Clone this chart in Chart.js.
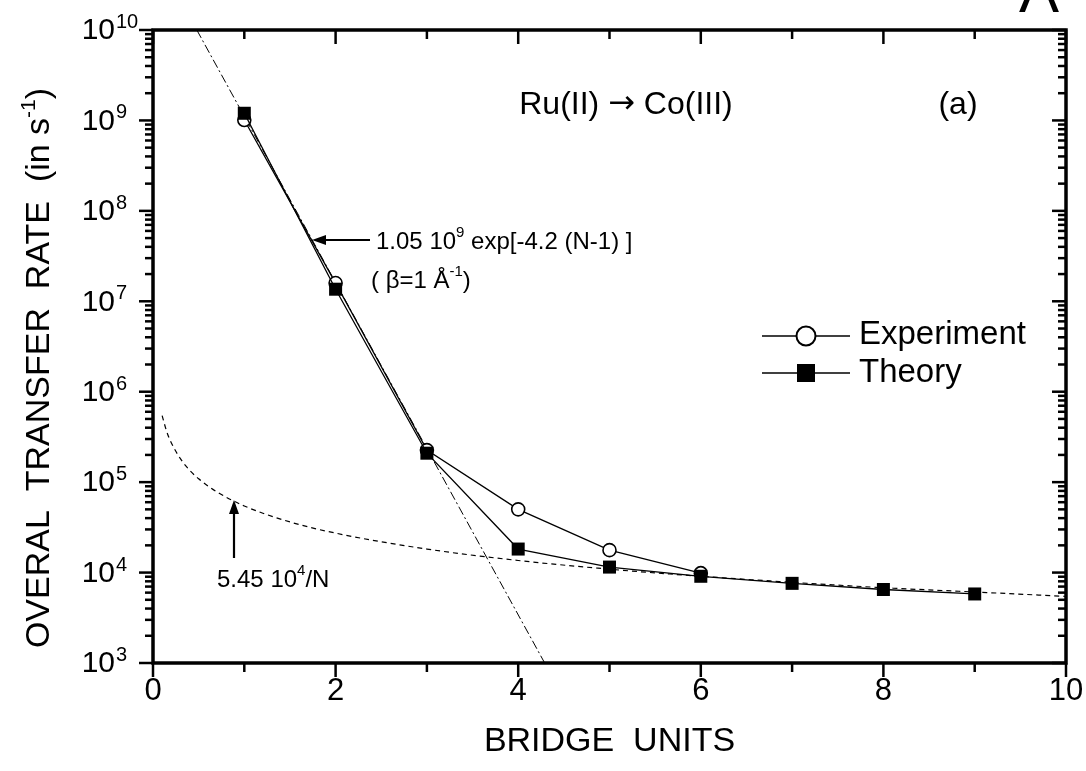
<!DOCTYPE html>
<html><head><meta charset="utf-8">
<script src="https://cdn.jsdelivr.net/npm/chart.js@4.4.1/dist/chart.umd.min.js"></script>
<style>html,body{margin:0;padding:0;background:#fff;overflow:hidden}</style>
</head><body>
<canvas id="c" width="1086" height="771" style="display:block;width:1086px;height:771px"></canvas>
<script>
const FONT = '"Liberation Sans", Arial, Helvetica, sans-serif';

// ---- data ----
const bridgeUnitsExp   = [1, 2, 3, 4, 5, 6];
const experimentRate   = [1.01e9, 1.59e7, 2.26e5, 5.0e4, 1.77e4, 9.85e3];
const bridgeUnitsTheory = [1, 2, 3, 4, 5, 6, 7, 8, 9];
const theoryRate       = [1.2e9, 1.36e7, 2.09e5, 1.82e4, 1.15e4, 9.1e3, 7.6e3, 6.5e3, 5.8e3];
// dash-dot fit line 1.05e9 exp[-4.2(N-1)] : ends
const expFitN    = [0.48, 4.29];
const expFitRate = [1e10, 1e3];
// dashed curve 5.45e4/N : points
const invFitN    = [0.1, 0.15, 0.2, 0.3, 0.4, 0.5, 0.7, 1, 1.5, 2, 3, 4, 5, 6, 7, 8, 9, 10];
const invFitRate = [5.45e5, 3.63e5, 2.73e5, 1.82e5, 1.36e5, 1.09e5, 7.8e4, 5.45e4, 3.63e4, 2.73e4, 1.82e4, 1.36e4, 1.09e4, 9.1e3, 7.8e3, 6.8e3, 6.1e3, 5.45e3];
// axis ticks
const xTickValues = [0, 2, 4, 6, 8, 10];
const xTickLabels = ['0', '2', '4', '6', '8', '10'];
const yTickExponents = [3, 4, 5, 6, 7, 8, 9, 10];

const pts = (xs, ys) => xs.map((x, i) => ({x, y: ys[i]}));

function drawSup(ctx, parts, x, y, align) {
  let total = 0;
  const f = p => p.size + 'px ' + (p.family || FONT);
  parts.forEach(p => { ctx.font = f(p); p.w = ctx.measureText(p.t).width; total += p.w; });
  let cx = align === 'center' ? x - total / 2 : align === 'right' ? x - total : x;
  ctx.textAlign = 'left';
  parts.forEach(p => { ctx.font = f(p); ctx.fillText(p.t, cx, y + (p.dy || 0)); cx += p.w; });
}

function arrow(ctx, x1, y1, x2, y2) {
  const ang = Math.atan2(y2 - y1, x2 - x1), L = 14, W = 5;
  ctx.lineWidth = 2.2;
  ctx.beginPath(); ctx.moveTo(x1, y1);
  ctx.lineTo(x2 - Math.cos(ang) * (L - 2), y2 - Math.sin(ang) * (L - 2)); ctx.stroke();
  ctx.beginPath(); ctx.moveTo(x2, y2);
  ctx.lineTo(x2 - Math.cos(ang) * L - Math.sin(ang) * W, y2 - Math.sin(ang) * L + Math.cos(ang) * W);
  ctx.lineTo(x2 - Math.cos(ang) * L + Math.sin(ang) * W, y2 - Math.sin(ang) * L - Math.cos(ang) * W);
  ctx.closePath(); ctx.fill();
}

const overlay = {
  id: 'overlay',
  afterDraw(chart) {
    const ctx = chart.ctx, a = chart.chartArea, xs = chart.scales.x, ys = chart.scales.y;
    ctx.save();
    ctx.strokeStyle = '#000'; ctx.fillStyle = '#000'; ctx.lineCap = 'butt';
    const seg = (x1, y1, x2, y2) => { ctx.beginPath(); ctx.moveTo(x1, y1); ctx.lineTo(x2, y2); ctx.stroke(); };
    ctx.lineWidth = 2.5;
    for (let v = 0; v <= 10; v++) {
      const x = xs.getPixelForValue(v), L = v % 2 === 0 ? 14 : 9;
      seg(x, a.bottom, x, a.bottom + L);
      seg(x, a.top, x, a.top + L);
    }
    yTickExponents.forEach(e => {
      const y = ys.getPixelForValue(Math.pow(10, e));
      seg(a.left - 14, y, a.left, y); seg(a.right - 14, y, a.right, y);
      if (e < 10) for (let m = 2; m <= 9; m++) {
        const ym = ys.getPixelForValue(m * Math.pow(10, e));
        seg(a.left - 8, ym, a.left, ym); seg(a.right - 8, ym, a.right, ym);
      }
    });
    ctx.lineWidth = 3.5;
    ctx.strokeRect(a.left, a.top, a.right - a.left, a.bottom - a.top);

    // tick labels
    ctx.textBaseline = 'middle'; ctx.textAlign = 'center';
    ctx.font = '31px ' + FONT;
    xTickValues.forEach((v, i) => ctx.fillText(xTickLabels[i], xs.getPixelForValue(v), 691));
    yTickExponents.forEach(e => {
      const y = ys.getPixelForValue(Math.pow(10, e));
      ctx.textBaseline = 'middle'; ctx.textAlign = 'right';
      ctx.font = '30px ' + FONT; ctx.fillText('10', 115, y + 1);
      ctx.textBaseline = 'alphabetic'; ctx.textAlign = 'left';
      ctx.font = '20px ' + FONT; ctx.fillText(String(e), 116, y - 2);
    });

    // axis titles
    ctx.textBaseline = 'middle'; ctx.textAlign = 'center';
    ctx.font = '34px ' + FONT;
    ctx.fillText('BRIDGE  UNITS', (a.left + a.right) / 2, 742);
    ctx.save();
    ctx.translate(40, 368); ctx.rotate(-Math.PI / 2);
    ctx.textBaseline = 'middle';
    drawSup(ctx, [{t: 'OVERAL  TRANSFER  RATE  (in s', size: 34}, {t: '-1', size: 21, dy: -11}, {t: ')', size: 34}], 0, 0, 'center');
    ctx.restore();

    // annotations
    ctx.textBaseline = 'middle';
    drawSup(ctx, [{t: 'Ru(II) ', size: 32}, {t: '\u2192', size: 32, family: '"DejaVu Sans", sans-serif'}, {t: ' Co(III)', size: 32}], 626, 105, 'center');
    ctx.font = '32px ' + FONT; ctx.textAlign = 'center';
    ctx.fillText('(a)', 958, 105);
    ctx.textBaseline = 'alphabetic';
    ctx.font = '60px ' + FONT; ctx.textAlign = 'center';
    ctx.fillText('A', 1039, 12);

    ctx.textBaseline = 'middle';
    drawSup(ctx, [{t: '1.05 10', size: 24}, {t: '9', size: 15, dy: -9}, {t: ' exp[-4.2 (N-1) ]', size: 24}], 376, 242, 'left');
    drawSup(ctx, [{t: '( \u03b2=1 \u00c5', size: 24}, {t: '-1', size: 15, dy: -9}, {t: ')', size: 24}], 371, 281, 'left');
    arrow(ctx, 370, 240, 312, 240);
    drawSup(ctx, [{t: '5.45 10', size: 24}, {t: '4', size: 15, dy: -9}, {t: '/N', size: 24}], 217, 580, 'left');
    arrow(ctx, 234, 558, 234, 500);

    // legend
    ctx.lineWidth = 1.3;
    seg(762, 336, 850, 336);
    ctx.beginPath(); ctx.arc(806, 336, 9.5, 0, Math.PI * 2);
    ctx.fillStyle = '#fff'; ctx.fill(); ctx.lineWidth = 2; ctx.stroke();
    ctx.fillStyle = '#000'; ctx.lineWidth = 1.3;
    seg(762, 373, 850, 373);
    ctx.fillRect(797, 364, 18, 18);
    ctx.font = '33px ' + FONT; ctx.textAlign = 'left'; ctx.textBaseline = 'middle';
    ctx.fillText('Experiment', 859, 335);
    ctx.fillText('Theory', 859, 373);
    ctx.restore();
  }
};

new Chart(document.getElementById('c'), {
  type: 'line',
  data: {
    datasets: [
      { label: 'Theory', data: pts(bridgeUnitsTheory, theoryRate), borderColor: '#000', backgroundColor: '#000',
        borderWidth: 1.3, pointStyle: 'rect', pointRadius: 9.2, pointBorderWidth: 0, pointBackgroundColor: '#000', tension: 0 },
      { label: 'Experiment', data: pts(bridgeUnitsExp, experimentRate), borderColor: '#000', backgroundColor: '#fff',
        borderWidth: 1.3, pointStyle: 'circle', pointRadius: 6.5, pointBorderWidth: 1.6, pointBackgroundColor: '#fff', tension: 0 },
      { label: 'exp fit', data: pts(expFitN, expFitRate), borderColor: '#000', borderWidth: 1,
        borderDash: [9, 3, 2, 3], pointRadius: 0, tension: 0 },
      { label: '1/N fit', data: pts(invFitN, invFitRate), borderColor: '#000', borderWidth: 1.2,
        borderDash: [5, 4], pointRadius: 0, cubicInterpolationMode: 'monotone' }
    ]
  },
  options: {
    responsive: false, animation: false, devicePixelRatio: 1,
    layout: { padding: { top: 30, right: 20, left: 0, bottom: 0 } },
    plugins: { legend: { display: false }, tooltip: { enabled: false } },
    scales: {
      x: { type: 'linear', min: 0, max: 10, border: { display: false }, grid: { display: false, drawTicks: false },
           ticks: { display: false }, afterFit(s) { s.height = 108; } },
      y: { type: 'logarithmic', min: 1e3, max: 1e10, border: { display: false }, grid: { display: false, drawTicks: false },
           ticks: { display: false }, afterFit(s) { s.width = 153; } }
    }
  },
  plugins: [overlay]
});
</script>
</body></html>
